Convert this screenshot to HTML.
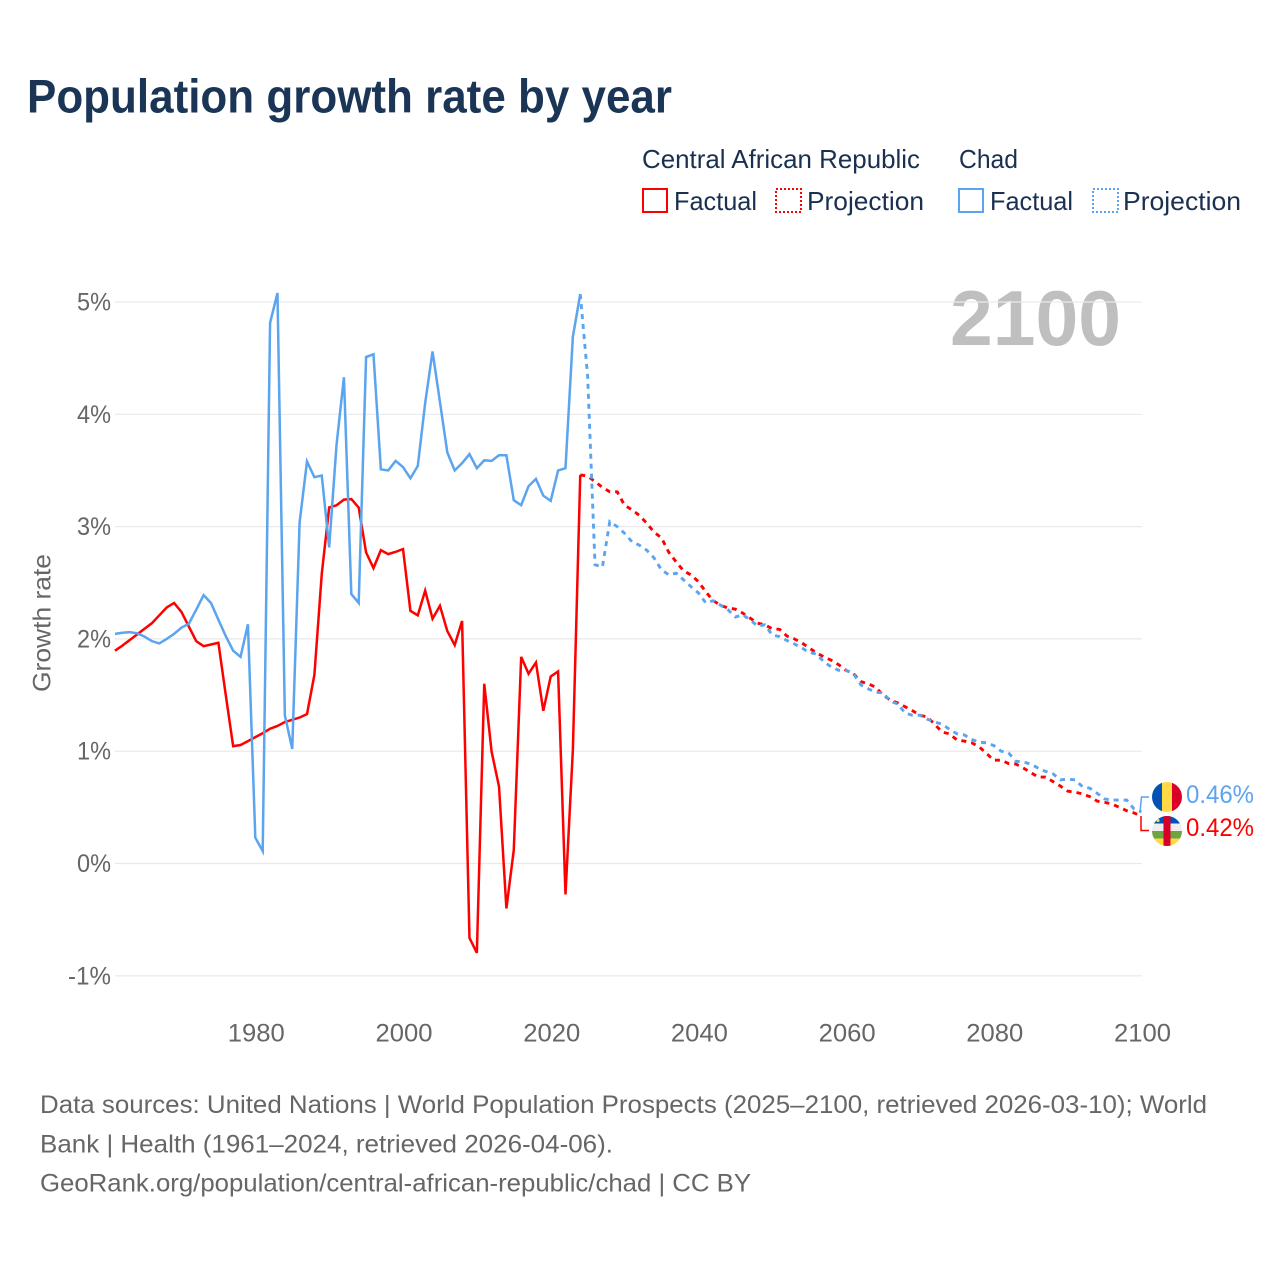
<!DOCTYPE html>
<html lang="en">
<head>
<meta charset="utf-8">
<title>Population growth rate by year</title>
<style>
html,body{margin:0;padding:0;background:#fff;width:1280px;height:1280px;overflow:hidden}
svg{display:block}
text{font-family:"Liberation Sans",sans-serif}
</style>
</head>
<body>
<svg id="chart" xmlns="http://www.w3.org/2000/svg" width="1280" height="1280" viewBox="0 0 1280 1280">
  <defs>
    <clipPath id="flag-top-clip"><circle cx="1167" cy="797" r="15"/></clipPath>
    <clipPath id="flag-bottom-clip"><circle cx="1167" cy="831" r="15"/></clipPath>
  </defs>
  <rect x="0" y="0" width="1280" height="1280" fill="#ffffff"/>
  <text x="27" y="112.5" font-size="47" font-weight="700" fill="#1a3555" textLength="645" lengthAdjust="spacingAndGlyphs">Population growth rate by year</text>

  <g font-size="26" fill="#1a3050">
    <text x="642" y="168" textLength="278" lengthAdjust="spacingAndGlyphs">Central African Republic</text>
    <text x="959" y="168" textLength="59" lengthAdjust="spacingAndGlyphs">Chad</text>
    <rect x="643" y="189" width="24" height="23" fill="none" stroke="#ff0000" stroke-width="2"/>
    <text x="674" y="210" textLength="83" lengthAdjust="spacingAndGlyphs">Factual</text>
    <rect x="776" y="189" width="25" height="23" fill="none" stroke="#ff0000" stroke-width="2" stroke-dasharray="2 2"/>
    <text x="807" y="210" textLength="117" lengthAdjust="spacingAndGlyphs">Projection</text>
    <rect x="959" y="189" width="24" height="23" fill="none" stroke="#5ba4ef" stroke-width="2"/>
    <text x="990" y="210" textLength="83" lengthAdjust="spacingAndGlyphs">Factual</text>
    <rect x="1093" y="189" width="25" height="23" fill="none" stroke="#5ba4ef" stroke-width="2" stroke-dasharray="2 2"/>
    <text x="1123" y="210" textLength="118" lengthAdjust="spacingAndGlyphs">Projection</text>
  </g>

  <text x="950" y="345" font-size="78" font-weight="700" fill="#000000" fill-opacity="0.25" textLength="171" lengthAdjust="spacingAndGlyphs">2100</text>
  <text transform="translate(50.5,623) rotate(-90)" text-anchor="middle" font-size="25" fill="#666666" textLength="138" lengthAdjust="spacingAndGlyphs">Growth rate</text>

  <g id="grid"></g>
  <g id="y-ticks"></g>
  <g id="x-ticks"></g>
  <g id="series"></g>

  <path d="M1140 812 L1141.5 797 L1149 797" fill="none" stroke="#5ba4ef" stroke-width="1.5"/>
  <path d="M1141 816 L1141 830.5 L1149 830.5" fill="none" stroke="#ff0000" stroke-width="1.5"/>

  <g clip-path="url(#flag-top-clip)">
    <rect x="1152" y="782" width="10" height="30" fill="#0052b4"/>
    <rect x="1162" y="782" width="10" height="30" fill="#ffda44"/>
    <rect x="1172" y="782" width="10" height="30" fill="#d80027"/>
  </g>
  <g clip-path="url(#flag-bottom-clip)">
    <rect x="1152" y="816" width="30" height="7.5" fill="#0052b4"/>
    <rect x="1152" y="823.5" width="30" height="7.5" fill="#eeeeee"/>
    <rect x="1152" y="831" width="30" height="7.5" fill="#6da544"/>
    <rect x="1152" y="838.5" width="30" height="7.5" fill="#ffda44"/>
    <rect x="1163.5" y="816" width="7" height="30" fill="#d80027"/>
    <circle cx="1158" cy="820.5" r="1.6" fill="#ffda44"/>
  </g>
  <text x="1186" y="803" font-size="25" fill="#5ba4ef" textLength="68" lengthAdjust="spacingAndGlyphs">0.46%</text>
  <text x="1186" y="836" font-size="25" fill="#ff0000" textLength="68" lengthAdjust="spacingAndGlyphs">0.42%</text>

  <g font-size="25" fill="#666666">
    <text x="40" y="1113" textLength="1167" lengthAdjust="spacingAndGlyphs">Data sources: United Nations | World Population Prospects (2025–2100, retrieved 2026-03-10); World</text>
    <text x="40" y="1152.5" textLength="573" lengthAdjust="spacingAndGlyphs">Bank | Health (1961–2024, retrieved 2026-04-06).</text>
    <text x="40" y="1191.5" textLength="711" lengthAdjust="spacingAndGlyphs">GeoRank.org/population/central-african-republic/chad | CC BY</text>
  </g>
</svg>
<script>
const yTickValues = [5, 4, 3, 2, 1, 0, -1];
const yTickLabels = ["5%", "4%", "3%", "2%", "1%", "0%", "-1%"];
const xTickValues = [1980, 2000, 2020, 2040, 2060, 2080, 2100];
const xTickLabels = ["1980", "2000", "2020", "2040", "2060", "2080", "2100"];
const firstYear = 1961;
const lastFactualYear = 2024;
const carFactual = [1.895,1.94,1.99,2.04,2.09,2.14,2.21,2.28,2.32,2.24,2.11,1.98,1.935,1.95,1.965,1.5,1.045,1.055,1.09,1.125,1.16,1.2,1.225,1.26,1.28,1.3,1.33,1.68,2.58,3.17,3.19,3.24,3.245,3.17,2.77,2.63,2.79,2.755,2.775,2.8,2.25,2.21,2.43,2.18,2.295,2.07,1.945,2.16,-0.663,-0.795,1.6,0.995,0.685,-0.4,0.12,1.84,1.69,1.79,1.36,1.665,1.71,-0.275,1.01,3.46];
const chadFactual = [2.045,2.055,2.06,2.05,2.02,1.98,1.96,2.0,2.045,2.1,2.135,2.26,2.39,2.32,2.17,2.025,1.895,1.84,2.13,0.23,0.11,4.815,5.08,1.32,1.02,3.04,3.58,3.44,3.455,2.815,3.73,4.33,2.4,2.32,4.51,4.535,3.51,3.5,3.585,3.53,3.43,3.54,4.1,4.56,4.11,3.66,3.5,3.565,3.645,3.52,3.59,3.585,3.635,3.635,3.235,3.19,3.36,3.425,3.275,3.23,3.5,3.52,4.69,5.07];
const carProjection = [3.46,3.45,3.4,3.35,3.31,3.31,3.19,3.15,3.1,3.03,2.95,2.9,2.77,2.685,2.605,2.57,2.51,2.42,2.34,2.3,2.275,2.265,2.23,2.185,2.14,2.125,2.09,2.085,2.025,2.0,1.965,1.92,1.875,1.84,1.81,1.77,1.72,1.69,1.62,1.6,1.57,1.5,1.455,1.43,1.395,1.36,1.32,1.305,1.24,1.17,1.155,1.1,1.09,1.075,1.04,0.98,0.92,0.92,0.89,0.885,0.85,0.81,0.77,0.77,0.73,0.69,0.645,0.635,0.62,0.595,0.555,0.545,0.53,0.5,0.47,0.45,0.42];
const chadProjection = [5.07,4.34,2.66,2.64,3.045,3.0,2.94,2.865,2.835,2.79,2.72,2.615,2.57,2.585,2.525,2.465,2.41,2.32,2.34,2.3,2.26,2.195,2.215,2.17,2.115,2.125,2.035,2.02,1.985,1.955,1.92,1.88,1.865,1.795,1.75,1.72,1.72,1.69,1.59,1.555,1.525,1.52,1.445,1.42,1.34,1.32,1.32,1.285,1.26,1.24,1.195,1.155,1.145,1.105,1.08,1.075,1.05,1.0,0.985,0.91,0.905,0.885,0.85,0.82,0.8,0.745,0.75,0.745,0.685,0.67,0.625,0.575,0.565,0.565,0.565,0.485,0.46];

const NS = 'http://www.w3.org/2000/svg';
const xScale = function (year) { return 115 + (year - 1961) * (1026.5 / 139); };
const yScale = function (value) { return 863.5 - value * 112.3; };

const grid = document.getElementById('grid');
const yAxis = document.getElementById('y-ticks');
yTickValues.forEach(function (value, i) {
  const line = document.createElementNS(NS, 'line');
  
  
  line.setAttribute('x1', 115);
  line.setAttribute('x2', 1142);
  line.setAttribute('y1', yScale(value));
  line.setAttribute('y2', yScale(value));
  line.setAttribute('stroke', '#e9e9e9');
  line.setAttribute('stroke-width', '1.2');
  grid.appendChild(line);
  const label = document.createElementNS(NS, 'text');
  
  
  label.setAttribute('x', 111);
  label.setAttribute('y', yScale(value) + 8.5);
  label.setAttribute('text-anchor', 'end');
  label.setAttribute('font-size', '25');
  label.setAttribute('fill', '#666666');
  label.setAttribute('textLength', yTickLabels[i].length > 2 ? 43 : 34);
  label.setAttribute('lengthAdjust', 'spacingAndGlyphs');
  label.textContent = yTickLabels[i];
  yAxis.appendChild(label);
});

const xAxis = document.getElementById('x-ticks');
xTickValues.forEach(function (year, i) {
  const label = document.createElementNS(NS, 'text');
  
  
  label.setAttribute('x', xScale(year) + 1);
  label.setAttribute('y', 1041.5);
  label.setAttribute('text-anchor', 'middle');
  label.setAttribute('font-size', '25');
  label.setAttribute('fill', '#666666');
  label.setAttribute('textLength', 57);
  label.setAttribute('lengthAdjust', 'spacingAndGlyphs');
  label.textContent = xTickLabels[i];
  xAxis.appendChild(label);
});

const seriesGroup = document.getElementById('series');
function linePoints(values, startYear) {
  return values.map(function (value, i) {
    return xScale(startYear + i).toFixed(2) + ',' + yScale(value).toFixed(2);
  }).join(' ');
}

const carFactualLine = document.createElementNS(NS, 'polyline');


carFactualLine.setAttribute('points', linePoints(carFactual, firstYear));
carFactualLine.setAttribute('fill', 'none');
carFactualLine.setAttribute('stroke', '#ff0000');
carFactualLine.setAttribute('stroke-width', '2.5');
seriesGroup.appendChild(carFactualLine);

const carProjectionLine = document.createElementNS(NS, 'polyline');


carProjectionLine.setAttribute('points', linePoints(carProjection, lastFactualYear));
carProjectionLine.setAttribute('fill', 'none');
carProjectionLine.setAttribute('stroke', '#ff0000');
carProjectionLine.setAttribute('stroke-width', '2.9');
carProjectionLine.setAttribute('stroke-dasharray', '5 5');
seriesGroup.appendChild(carProjectionLine);

const chadFactualLine = document.createElementNS(NS, 'polyline');


chadFactualLine.setAttribute('points', linePoints(chadFactual, firstYear));
chadFactualLine.setAttribute('fill', 'none');
chadFactualLine.setAttribute('stroke', '#5ba4ef');
chadFactualLine.setAttribute('stroke-width', '2.5');
seriesGroup.appendChild(chadFactualLine);

const chadProjectionLine = document.createElementNS(NS, 'polyline');


chadProjectionLine.setAttribute('points', linePoints(chadProjection, lastFactualYear));
chadProjectionLine.setAttribute('fill', 'none');
chadProjectionLine.setAttribute('stroke', '#5ba4ef');
chadProjectionLine.setAttribute('stroke-width', '2.9');
chadProjectionLine.setAttribute('stroke-dasharray', '5 5');
seriesGroup.appendChild(chadProjectionLine);
</script>
</body>
</html>
